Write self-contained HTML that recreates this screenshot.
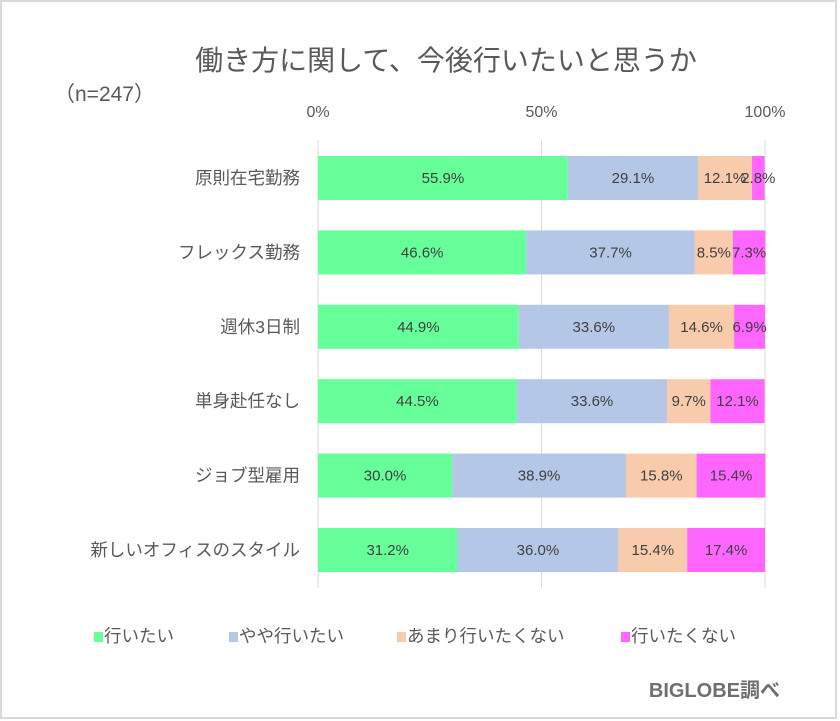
<!DOCTYPE html>
<html><head><meta charset="utf-8">
<style>
html,body{margin:0;padding:0;background:#fff;}
svg{display:block;font-family:"Liberation Sans","Noto Sans CJK JP",sans-serif;}
</style></head>
<body>
<svg id="chart" width="840" height="721" viewBox="0 0 840 721">
  <rect x="1" y="1" width="835" height="717" fill="#fff" stroke="#d9d9d9" stroke-width="2"/>
  <text x="446" y="70" text-anchor="middle" font-size="28" fill="#595959">働き方に関して、今後行いたいと思うか</text>
  <text x="54" y="101" font-size="21" fill="#595959">（n=247）</text>
  <g id="grid"></g>
  <g id="bars"></g>
  <g id="legend"></g>
  <text x="780" y="697" text-anchor="end" font-size="20" font-weight="bold" fill="#6f6f6f">BIGLOBE調べ</text>
</svg>
<script>
const categories = ["原則在宅勤務","フレックス勤務","週休3日制","単身赴任なし","ジョブ型雇用","新しいオフィスのスタイル"];
const seriesNames = ["行いたい","やや行いたい","あまり行いたくない","行いたくない"];
const s1 = [55.9,46.6,44.9,44.5,30.0,31.2];
const s2 = [29.1,37.7,33.6,33.6,38.9,36.0];
const s3 = [12.1,8.5,14.6,9.7,15.8,15.4];
const s4 = [2.8,7.3,6.9,12.1,15.4,17.4];
const ticks = [0,50,100];
const tickLabels = ["0%","50%","100%"];

const NS = "http://www.w3.org/2000/svg";
const colors = ["#66ff99","#b4c7e7","#f8cbad","#ff66ff"];
const x0 = 318, x1 = 765, yTop = 142, rowH = 74.4, barH = 44;
function xs(v){ return x0 + (x1 - x0) * v / 100; }
function yRow(i){ return yTop + i * rowH + 14; }
function mk(tag, attrs){ const e = document.createElementNS(NS, tag); for (const k in attrs) e.setAttribute(k, attrs[k]); return e; }

const grid = document.getElementById('grid');
ticks.forEach((t, i) => {
  const l = mk('line', {x1: xs(t), x2: xs(t), y1: 140, y2: 588, stroke: '#d9d9d9', 'stroke-width': 1});
  
  
  grid.appendChild(l);
  const tx = mk('text', {x: xs(t), y: 117, 'text-anchor': 'middle', 'font-size': 16, fill: '#595959'});
  tx.textContent = tickLabels[i];
  
  
  grid.appendChild(tx);
});

const bars = document.getElementById('bars');
const series = [s1, s2, s3, s4];
categories.forEach((c, i) => {
  const y = yRow(i);
  const lab = mk('text', {x: 300, y: y + barH / 2 + 6, 'text-anchor': 'end', 'font-size': 17.5, fill: '#595959'});
  lab.textContent = c;
  
  
  bars.appendChild(lab);
  let acc = 0;
  series.forEach((s, k) => {
    const v = s[i];
    const r = mk('rect', {x: xs(acc), y: y, width: xs(acc + v) - xs(acc), height: barH, fill: colors[k]});
    
    
    bars.appendChild(r);
    const t = mk('text', {x: (xs(acc) + xs(acc + v)) / 2, y: y + barH / 2 + 5, 'text-anchor': 'middle', 'font-size': 15, fill: '#404040'});
    t.textContent = v.toFixed(1) + '%';
    
    
    bars.appendChild(t);
    acc += v;
  });
});

const legend = document.getElementById('legend');
const lx = [94, 229, 397, 621];
seriesNames.forEach((n, k) => {
  const r = mk('rect', {x: lx[k], y: 632, width: 9, height: 10, fill: colors[k]});
  
  
  legend.appendChild(r);
  const t = mk('text', {x: lx[k] + 10, y: 642, 'font-size': 17.5, fill: '#595959'});
  t.textContent = n;
  
  
  legend.appendChild(t);
});
</script>
</body></html>
